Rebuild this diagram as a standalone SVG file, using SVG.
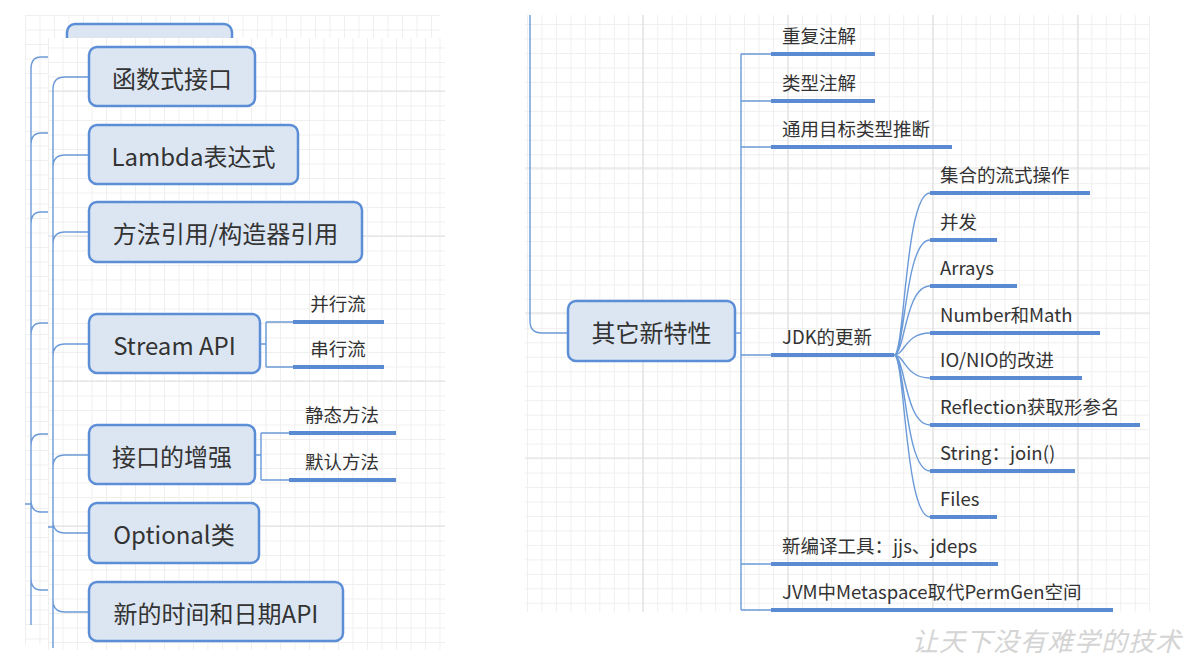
<svg xmlns="http://www.w3.org/2000/svg" width="1189" height="659" viewBox="0 0 1189 659">
<style>
.box{fill:#dce6f2;stroke:#5b8ed6;stroke-width:2.5}
.bt{font-family:"Noto Sans CJK SC","Liberation Sans",sans-serif;font-size:24px;fill:#333;text-anchor:middle;dominant-baseline:central}
.lt{font-family:"Noto Sans CJK SC","Liberation Sans",sans-serif;font-size:18.5px;fill:#333;dominant-baseline:central}
.mid{text-anchor:middle}
.thin{fill:none;stroke:#6b9ad8;stroke-width:1.4}
.thick{fill:none;stroke:#5a8ad2;stroke-width:4}
.major{stroke:#e0e0e0;stroke-width:1.2}
</style>
<defs>
<pattern id="gA" patternUnits="userSpaceOnUse" x="25" y="15" width="14.5" height="14.5">
<path d="M0 0.5H14.5M0.5 0V14.5" stroke="#efefef" stroke-width="1" fill="none"/>
</pattern>
<pattern id="gB" patternUnits="userSpaceOnUse" x="48" y="91" width="14.5" height="14.5">
<path d="M0 0.5H14.5M0.5 0V14.5" stroke="#efefef" stroke-width="1" fill="none"/>
</pattern>
<pattern id="gC" patternUnits="userSpaceOnUse" x="527" y="24" width="14.47" height="14.47">
<path d="M0 0.5H14.47M0.5 0V14.47" stroke="#efefef" stroke-width="1" fill="none"/>
</pattern>
</defs>
<rect width="1189" height="659" fill="#fff"/>
<g id="grid">
<rect x="25" y="15" width="415" height="630" fill="url(#gA)"/>
<rect x="525" y="15" width="625" height="597" fill="url(#gC)"/>
<path class="major" d="M525 168H1150M525 313H1150M525 458H1150M643 15V612M788 15V612M933 15V612M1078 15V612"/>
</g>
<g id="back-layer">
<path d="M67 40V32a8 8 0 0 1 8-8H224a8 8 0 0 1 8 8V40" class="box"/>
<path class="thin" d="M31 625V69Q31 57 41 57H48M31 145Q31 133 41 133H48M31 224Q31 212 41 212H48M31 335Q31 323 41 323H48M31 446Q31 434 41 434H48M31 500Q31 512 41 512H48M31 578Q31 590 41 590H48M25 504H31"/>
</g>
<rect x="48" y="38" width="397" height="612" fill="#fff"/>
<rect x="48" y="38" width="397" height="612" fill="url(#gB)"/>
<path class="major" d="M48 91H445M48 236H445M48 381H445M48 526H445"/>
<g id="connectors">
<path class="thin" d="M53 648V89Q53 77 65 77H89M53 167Q53 155 65 155H89M53 244Q53 232 65 232H89M53 356Q53 344 65 344H89M53 467Q53 455 65 455H89M53 521Q53 533 65 533H89M53 600Q53 612 65 612H89M48 527H53"/>
<path class="thin" d="M260 344H266M266 322V367M266 322H293M266 367H293"/>
<path class="thick" d="M293 322H384M293 367H384"/>
<path class="thin" d="M255 455H261M261 433V480M261 433H289M261 480H289"/>
<path class="thick" d="M289 433H396M289 480H396"/>
<path class="thin" d="M530 15V321Q530 333 542 333H568"/>
<path class="thin" d="M735 333H741M741 54V610M741 54H771M741 101H771M741 147H771M741 355H771M741 564H771M741 610H771"/>
<path class="thick" d="M771 54H875M771 101H875M771 147H952M771 355H894M771 564H998M771 610H1113"/>
<path class="thin" d="M894 355C905 355 905 193 930 193M894 355C905 355 905 240 930 240M894 355C905 355 905 286 930 286M894 355C905 355 905 333 930 333M894 355C905 355 905 378 930 378M894 355C905 355 905 425 930 425M894 355C905 355 905 471 930 471M894 355C905 355 905 517 930 517"/>
<path class="thick" d="M930 193H1090M930 240H997M930 286H1017M930 333H1100M930 378H1082M930 425H1140M930 471H1075M930 517H997"/>
</g>
<g id="n1"><rect class="box" x="89" y="47" width="166" height="59" rx="8"/><text class="bt" x="172" y="77">函数式接口</text></g>
<g id="n2"><rect class="box" x="89" y="125" width="209" height="59" rx="8"/><text class="bt" x="193.5" y="155">Lambda表达式</text></g>
<g id="n3"><rect class="box" x="89" y="202" width="273" height="60" rx="8"/><text class="bt" x="225.5" y="232">方法引用/构造器引用</text></g>
<g id="n4"><rect class="box" x="89" y="314" width="171" height="59" rx="8"/><text class="bt" x="174.5" y="344">Stream API</text></g>
<g id="n4a"><text class="lt mid" x="338" y="303">并行流</text></g>
<g id="n4b"><text class="lt mid" x="338" y="348">串行流</text></g>
<g id="n5"><rect class="box" x="89" y="425" width="166" height="59" rx="8"/><text class="bt" x="172" y="455">接口的增强</text></g>
<g id="n5a"><text class="lt mid" x="342" y="414">静态方法</text></g>
<g id="n5b"><text class="lt mid" x="342" y="461">默认方法</text></g>
<g id="n6"><rect class="box" x="89" y="503" width="170" height="60" rx="8"/><text class="bt" x="174" y="533">Optional类</text></g>
<g id="n7"><rect class="box" x="89" y="582" width="254" height="59" rx="8"/><text class="bt" x="216" y="612">新的时间和日期API</text></g>
<g id="r0"><rect class="box" x="568" y="301" width="167" height="60" rx="8"/><text class="bt" x="651.5" y="331">其它新特性</text></g>
<g id="r1"><text class="lt" x="782" y="35">重复注解</text></g>
<g id="r2"><text class="lt" x="782" y="82">类型注解</text></g>
<g id="r3"><text class="lt" x="782" y="128">通用目标类型推断</text></g>
<g id="r4"><text class="lt" x="782" y="336">JDK的更新</text></g>
<g id="r5"><text class="lt" x="782" y="545">新编译工具：jjs、jdeps</text></g>
<g id="r6"><text class="lt" x="782" y="591">JVM中Metaspace取代PermGen空间</text></g>
<g id="j1"><text class="lt" x="940" y="174">集合的流式操作</text></g>
<g id="j2"><text class="lt" x="940" y="221">并发</text></g>
<g id="j3"><text class="lt" x="940" y="267">Arrays</text></g>
<g id="j4"><text class="lt" x="940" y="314">Number和Math</text></g>
<g id="j5"><text class="lt" x="940" y="359">IO/NIO的改进</text></g>
<g id="j6"><text class="lt" x="940" y="406">Reflection获取形参名</text></g>
<g id="j7"><text class="lt" x="940" y="452">String：join()</text></g>
<g id="j8"><text class="lt" x="940" y="498">Files</text></g>
<text x="912" y="651" font-family="Noto Sans CJK SC,sans-serif" font-size="26" fill="#d4d4d4" letter-spacing="1" font-style="italic">让天下没有难学的技术</text>
</svg>
